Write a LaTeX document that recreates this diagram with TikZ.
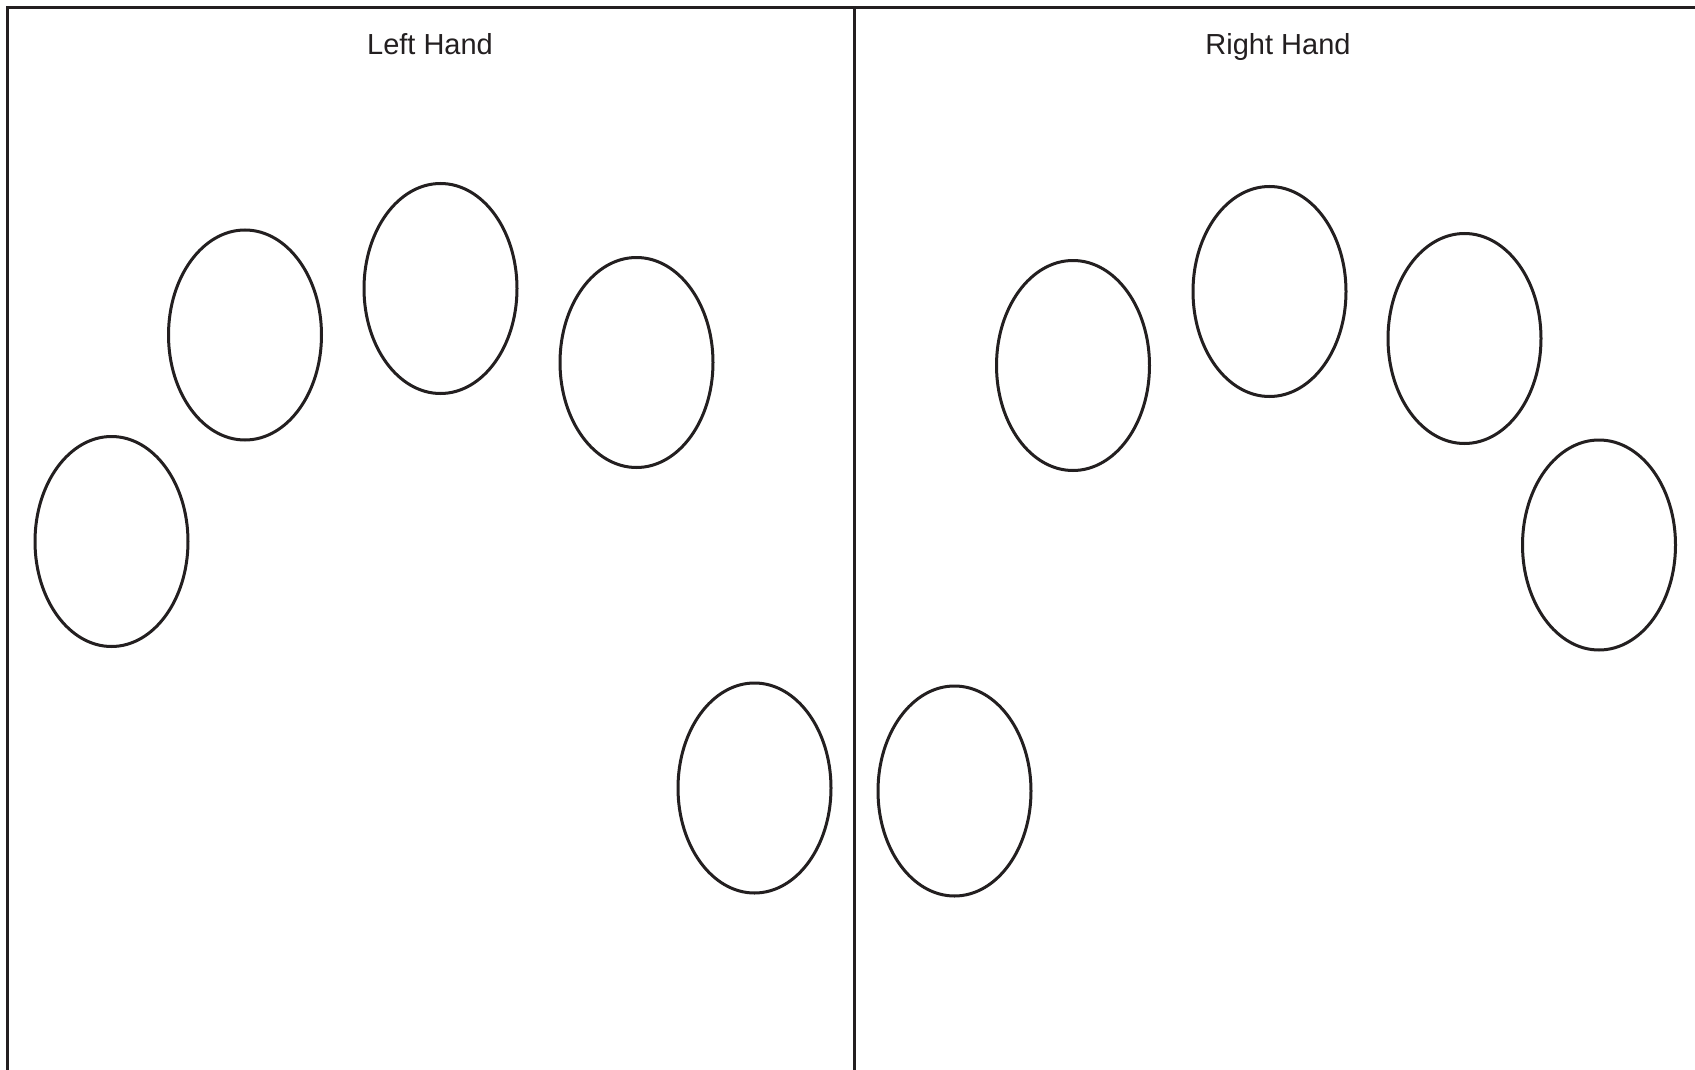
\documentclass[tikz,border=0pt]{standalone}
\usepackage{fontspec}
\setmainfont{Liberation Sans}
\usetikzlibrary{shapes.geometric}
\definecolor{ink}{HTML}{231F20}
\tikzset{
  finger/.style={ellipse, draw=ink, line width=3pt, inner sep=0pt, minimum width=153pt, minimum height=210pt},
  frameline/.style={draw=ink, line width=3pt},
  title/.style={font=\fontsize{29}{34}\selectfont, text=ink, inner sep=0pt, anchor=base}
}
\begin{document}
\begin{tikzpicture}[x=1pt,y=-1pt]
\useasboundingbox (0,0) rectangle (1695,1070);
\fill[white] (0,0) rectangle (1695,1070);
% frame
\coordinate (bl) at (7.5,1070);
\coordinate (tl) at (7.5,7.5);
\coordinate (tr) at (1695,7.5);
\coordinate (dt) at (854,7.5);
\coordinate (db) at (854,1070);
\draw[frameline] (bl) -- (tl) -- (tr);
\draw[frameline] (dt) -- (db);
% titles
\node[title] (lt) at (430,55) {Left Hand};
\node[title] (rt) at (1278,55) {Right Hand};
% left hand
\node[finger] (l1) at (111.5,541.5) {};
\node[finger] (l2) at (245,335) {};
\node[finger] (l3) at (440.5,288.5) {};
\node[finger] (l4) at (636.5,362.5) {};
\node[finger] (l5) at (754.5,788) {};
% right hand
\node[finger] (r1) at (954.5,791) {};
\node[finger] (r2) at (1073,365.5) {};
\node[finger] (r3) at (1269.5,291.5) {};
\node[finger] (r4) at (1464.5,338.5) {};
\node[finger] (r5) at (1599,545) {};
\end{tikzpicture}
\end{document}
